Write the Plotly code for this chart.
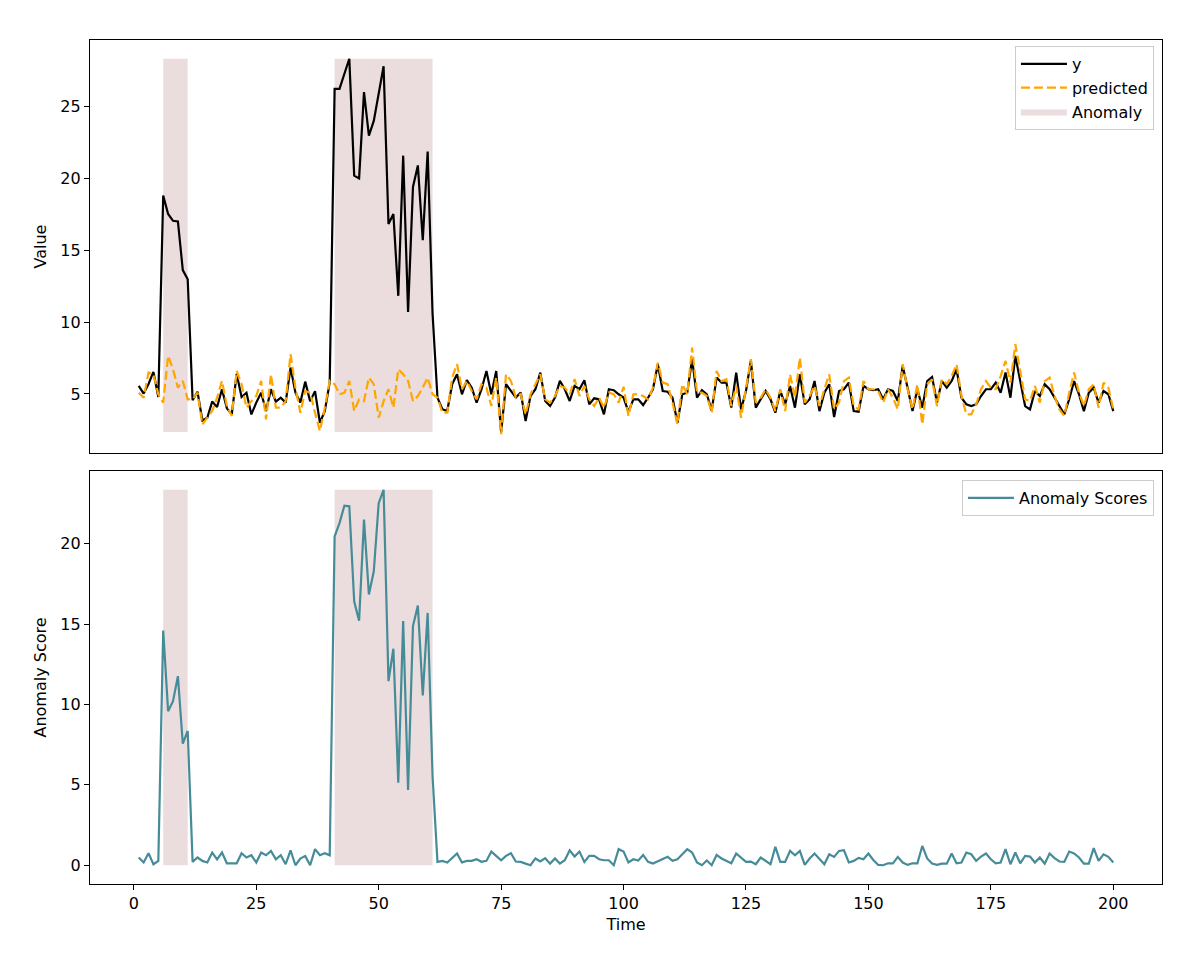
import plotly.graph_objects as go
from plotly.subplots import make_subplots

# time index 1..200
time = list(range(1, 201))

y_1_40 = [5.56, 5.03, 5.7, 6.54, 4.79, 18.8, 17.52, 17.05, 17.0, 13.62,
          12.98, 4.56, 5.16, 3.16, 3.35, 4.47, 4.10, 5.33, 4.0, 3.58,
          6.4, 4.79, 5.09, 3.58, 4.40, 5.09, 3.82, 5.33, 4.47, 4.74,
          4.40, 6.84, 5.09, 4.40, 5.86, 4.5, 5.2, 3.0, 3.82, 5.8]
y_41_61 = [26.23, 26.23, 27.28, 28.32, 20.19, 20.0, 26.0, 22.98, 24.0, 25.8,
           27.8, 16.82, 17.52, 11.83, 21.58, 10.7, 19.4, 20.9, 15.7, 21.86,
           10.6]
y_62_100 = [4.75, 3.94, 3.82, 5.68, 6.37, 4.98, 5.96, 5.44, 4.40, 5.33,
            6.6, 4.98, 6.6, 2.35, 5.68, 5.21, 4.75, 5.1, 3.12, 4.86,
            5.33, 6.49, 4.51, 4.16, 4.75, 5.91, 5.33, 4.51, 5.56, 5.33,
            5.96, 4.28, 4.7, 4.63, 3.58, 5.33, 5.26, 4.98, 4.75]
y_101_150 = [3.75, 4.63, 4.63, 4.23, 4.74, 5.33, 7.07, 5.21, 5.16, 4.74,
             3.0, 4.98, 5.09, 7.42, 4.74, 5.26, 4.98, 3.86, 6.14, 5.79,
             5.79, 4.05, 6.49, 3.93, 5.21, 7.3, 4.05, 4.63, 5.21, 4.63,
             3.7, 5.21, 4.28, 5.56, 4.05, 6.37, 4.28, 4.63, 5.9, 3.81,
             5.09, 5.68, 3.4, 5.21, 5.33, 5.79, 3.81, 3.77, 5.56, 5.33]
y_151_200 = [5.26, 5.33, 4.63, 5.33, 5.21, 4.51, 6.95, 5.44, 3.81, 5.33,
             4.05, 5.9, 6.18, 4.4, 5.9, 5.44, 5.9, 6.72, 4.74, 4.28,
             4.16, 4.28, 4.86, 5.33, 5.33, 5.79, 5.09, 6.49, 4.74, 7.65,
             5.9, 4.16, 3.93, 5.21, 4.86, 5.68, 5.33, 4.74, 4.16, 3.58,
             4.63, 5.9, 4.98, 3.81, 5.09, 5.44, 4.4, 5.21, 4.98, 3.81]

# predicted series
p_1_40 = [5.09, 4.74, 6.49, 6.37, 4.98, 4.40, 7.65, 6.72, 5.44, 5.91,
          4.63, 4.63, 5.09, 2.88, 3.35, 3.82, 4.74, 5.91, 4.16, 3.47,
          6.6, 5.68, 4.05, 4.5, 4.86, 5.91, 3.24, 6.37, 4.05, 4.05,
          4.5, 7.77, 5.44, 3.7, 5.21, 5.09, 3.7, 2.42, 4.05, 5.91]
p_41_61 = [5.68, 4.98, 5.09, 5.91, 3.82, 4.63, 4.51, 6.14, 5.68, 3.35,
           4.5, 5.33, 4.05, 6.72, 6.37, 5.91, 4.51, 4.86, 5.44, 6.14,
           4.98]
p_62_100 = [4.75, 3.7, 3.7, 6.14, 7.07, 5.33, 5.91, 5.21, 4.63, 5.68,
            5.44, 4.16, 6.14, 2.2, 6.37, 5.91, 4.75, 5.0, 3.58, 4.98,
            5.68, 6.37, 4.63, 4.40, 4.86, 5.56, 5.44, 4.98, 6.03, 4.86,
            5.56, 4.63, 4.16, 4.75, 4.05, 5.09, 4.98, 4.4, 5.5]
p_101_150 = [3.47, 4.98, 4.98, 4.86, 4.63, 5.44, 7.18, 5.79, 5.68, 4.4,
             2.89, 5.68, 4.98, 8.23, 5.09, 5.09, 4.86, 3.70, 6.6, 5.9,
             6.02, 4.16, 5.56, 3.35, 5.44, 7.42, 4.4, 4.74, 5.33, 4.74,
             3.81, 5.33, 3.81, 6.37, 4.74, 7.53, 4.4, 4.86, 5.56, 4.16,
             5.33, 6.37, 3.93, 4.4, 5.9, 6.14, 4.16, 3.93, 5.9, 5.33]
p_151_200 = [5.33, 5.21, 4.4, 5.33, 4.74, 3.93, 7.07, 5.33, 3.93, 5.68,
             2.89, 5.68, 6.02, 4.16, 6.02, 5.68, 6.25, 7.07, 4.86, 3.58,
             3.58, 4.28, 5.33, 5.9, 5.44, 5.33, 6.25, 7.3, 5.79, 8.46,
             6.6, 4.63, 4.51, 5.56, 4.4, 5.9, 6.14, 4.86, 3.93, 3.47,
             5.09, 6.49, 5.09, 4.16, 5.33, 5.68, 4.05, 5.79, 5.44, 3.93]

# anomaly scores
s_1_62 = [0.48, 0.17, 0.75, 0.06, 0.27, 14.6, 9.58, 10.2, 11.76, 7.56,
          8.35, 0.21, 0.48, 0.27, 0.17, 0.79, 0.37, 0.79, 0.12, 0.12,
          0.12, 0.75, 0.48, 0.62, 0.17, 0.79, 0.62, 0.89, 0.37, 0.62,
          0.06, 0.93, 0.0, 0.41, 0.58, 0.0, 1.0, 0.62, 0.75, 0.62,
          20.45, 21.28, 22.36, 22.32, 16.4, 15.2, 21.49, 16.84, 18.28, 22.52,
          23.35, 11.45, 13.46, 5.13, 15.18, 4.68, 14.87, 16.15, 10.56, 15.69,
          5.55, 0.21]
s_63_132 = [0.27, 0.17, 0.48, 0.73, 0.17, 0.27, 0.27, 0.37, 0.21, 0.27,
            0.85, 0.58, 0.31, 0.58, 0.75, 0.23, 0.21, 0.1, 0.0, 0.42,
            0.23, 0.44, 0.1, 0.42, 0.1, 0.31, 0.93, 0.54, 0.85, 0.21,
            0.58, 0.58, 0.37, 0.31, 0.31, 0.0, 1.0, 0.85, 0.17, 0.37,
            0.29, 0.64, 0.21, 0.1, 0.23, 0.37, 0.52, 0.27, 0.37, 0.68,
            1.0, 0.79, 0.17, 0.0, 0.29, 0.0, 0.64, 0.42, 0.27, 0.12,
            0.73, 0.44, 0.21, 0.23, 0.06, 0.48, 0.27, 0.06, 1.14, 0.21]
s_133_200 = [0.21, 0.89, 0.62, 0.89, 0.02, 0.42, 0.73, 0.42, 0.06, 0.68,
             0.52, 0.89, 0.93, 0.17, 0.27, 0.46, 0.37, 0.73, 0.33, 0.02,
             0.0, 0.12, 0.12, 0.52, 0.17, 0.02, 0.12, 0.12, 1.2, 0.42,
             0.1, 0.02, 0.1, 0.1, 0.73, 0.12, 0.17, 0.79, 0.68, 0.27,
             0.54, 0.73, 0.37, 0.12, 0.17, 1.0, 0.06, 0.79, 0.12, 0.58,
             0.54, 0.17, 0.48, 0.1, 0.73, 0.44, 0.23, 0.21, 0.85, 0.73,
             0.48, 0.1, 0.1, 1.06, 0.27, 0.68, 0.52, 0.17]

y = y_1_40 + y_41_61 + y_62_100 + y_101_150 + y_151_200
predicted = p_1_40 + p_41_61 + p_62_100 + p_101_150 + p_151_200
scores = s_1_62 + s_63_132 + s_133_200

# anomaly windows (start, end)
anomaly_starts = [6, 41]
anomaly_ends = [11, 61]

x_ticks = [0, 25, 50, 75, 100, 125, 150, 175, 200]

FONT = "DejaVu Sans"
FS = 16
SHADE = "rgba(188,143,143,0.3)"
TEAL = "#468c98"


def pad(lo, hi):
    m = 0.05 * (hi - lo)
    return [lo - m, hi + m]


fig = make_subplots(rows=2, cols=1, shared_xaxes=True, vertical_spacing=0.0213)

# shaded anomaly windows, spanning data min..max
lo_top, hi_top = min(y), max(y)
lo_bot, hi_bot = min(scores), max(scores)
for i, (a, b) in enumerate(zip(anomaly_starts, anomaly_ends)):
    fig.add_trace(go.Scatter(x=[a, b, b, a, a], y=[lo_top, lo_top, hi_top, hi_top, lo_top],
                             fill="toself", fillcolor=SHADE, mode="lines", line=dict(width=0),
                             name="Anomaly", showlegend=(i == 0), legendgroup="anom",
                             legendrank=3, hoverinfo="skip"), row=1, col=1)
    fig.add_trace(go.Scatter(x=[a, b, b, a, a], y=[lo_bot, lo_bot, hi_bot, hi_bot, lo_bot],
                             fill="toself", fillcolor=SHADE, mode="lines", line=dict(width=0),
                             showlegend=False, hoverinfo="skip"), row=2, col=1)

fig.add_trace(go.Scatter(x=time, y=y, mode="lines", name="y",
                         line=dict(color="black", width=2.2), legendrank=1), row=1, col=1)
fig.add_trace(go.Scatter(x=time, y=predicted, mode="lines", name="predicted",
                         line=dict(color="#ffa500", width=2.2, dash="9px,4px"), legendrank=2), row=1, col=1)
fig.add_trace(go.Scatter(x=time, y=scores, mode="lines", name="Anomaly Scores",
                         line=dict(color=TEAL, width=2.2), legend="legend2"), row=2, col=1)

axis_style = dict(showline=True, linecolor="black", linewidth=1.2, mirror=True,
                  ticks="outside", ticklen=5, tickwidth=1, tickcolor="black",
                  showgrid=False, zeroline=False,
                  tickfont=dict(family=FONT, size=FS, color="black"))

xr = pad(min(time), max(time))
fig.update_xaxes(**axis_style, range=xr, tickvals=x_ticks)
fig.update_xaxes(showticklabels=False, ticks="", row=1, col=1)
fig.update_xaxes(title=dict(text="Time", font=dict(family=FONT, size=FS, color="black"), standoff=6),
                 row=2, col=1)

fig.update_yaxes(**axis_style)
fig.update_yaxes(range=pad(min(min(y), min(predicted)), max(max(y), max(predicted))),
                 tickvals=[5, 10, 15, 20, 25],
                 title=dict(text="Value", font=dict(family=FONT, size=FS, color="black"), standoff=9),
                 row=1, col=1)
fig.update_yaxes(range=pad(lo_bot, hi_bot), tickvals=[0, 5, 10, 15, 20],
                 title=dict(text="Anomaly Score", font=dict(family=FONT, size=FS, color="black"), standoff=9),
                 row=2, col=1)

legend_style = dict(xanchor="right", yanchor="top", bgcolor="rgba(255,255,255,0.8)",
                    bordercolor="#cccccc", borderwidth=1, itemwidth=46,
                    font=dict(family=FONT, size=FS, color="black"), tracegroupgap=0)

# page body adds ~8px offset, so margins are shifted to put the axes where the reference has them
fig.update_layout(
    width=1200, height=964,
    margin=dict(l=82, r=46, t=32, b=88),
    plot_bgcolor="white", paper_bgcolor="white",
    font=dict(family=FONT, size=FS, color="black"),
    legend=dict(**legend_style, x=0.9925, y=0.9929),
    legend2=dict(**legend_style, x=0.9925, y=0.4787),
)

fig.write_html("out.html")
